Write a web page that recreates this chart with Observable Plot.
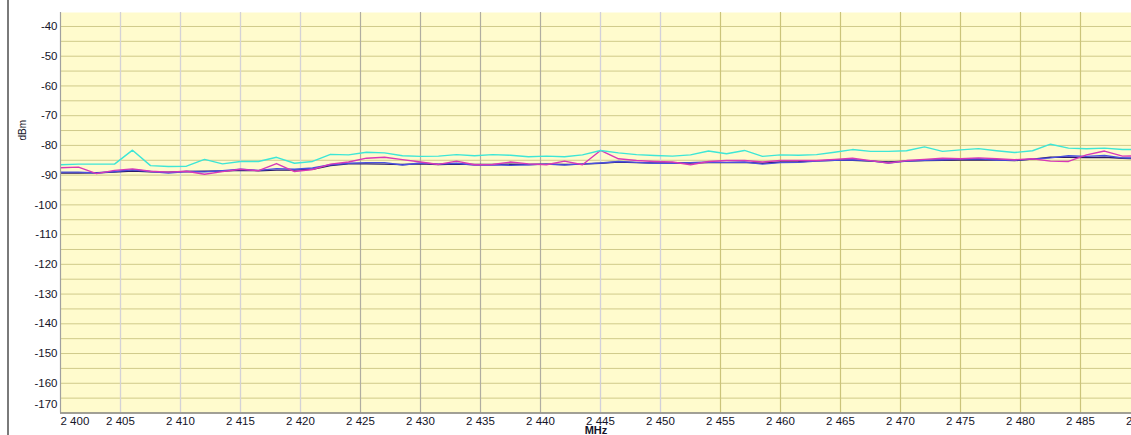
<!DOCTYPE html>
<html><head><meta charset="utf-8">
<script src="https://cdn.jsdelivr.net/npm/d3@7"></script>
<script src="https://cdn.jsdelivr.net/npm/@observablehq/plot@0.6"></script>
<style>body{margin:0;background:#fff;overflow:hidden}</style>
</head><body><div id="chart"></div>
<script>
const freqs = [2400,2401.5,2403,2404.5,2406,2407.5,2409,2410.5,2412,2413.5,2415,2416.5,2418,2419.5,2421,2422.5,
  2424,2425.5,2427,2428.5,2430,2431.5,2433,2434.5,2436,2437.5,2439,2440.5,2442,2443.5,2445,2446.5,
  2448,2449.5,2451,2452.5,2454,2455.5,2457,2458.5,2460,2461.5,2463,2464.5,2466,2467.5,2469,2470.5,
  2472,2473.5,2475,2476.5,2478,2479.5,2481,2482.5,2484,2485.5,2487,2488.5,2490];
const cyanSeries = [-86.5,-86.3,-86.3,-86.3,-81.6,-86.8,-87.1,-87.0,-84.7,-86.2,-85.4,-85.4,-84.0,-86.0,-85.4,-83.0,
  -83.2,-82.3,-82.5,-83.5,-83.7,-83.6,-83.1,-83.5,-83.1,-83.3,-83.8,-83.6,-83.8,-83.2,-81.7,-82.5,
  -83.1,-83.4,-83.6,-83.2,-81.9,-82.8,-81.7,-83.7,-83.2,-83.3,-83.1,-82.3,-81.4,-82.0,-82.0,-81.8,
  -80.5,-82.0,-81.5,-81.1,-81.8,-82.4,-81.8,-79.6,-80.9,-81.1,-80.9,-81.4,-81.3];
const magentaSeries = [-87.5,-87.3,-89.5,-88.4,-87.9,-88.7,-89.0,-88.7,-89.7,-88.8,-88.0,-88.5,-86.1,-88.8,-88.1,-86.3,
  -85.6,-84.3,-84.0,-84.8,-85.6,-86.4,-85.3,-86.5,-86.4,-85.6,-86.2,-86.5,-85.3,-86.5,-81.7,-84.5,
  -85.1,-85.4,-85.6,-86.5,-85.4,-85.1,-85.1,-85.6,-85.1,-85.1,-85.1,-84.7,-84.3,-85.1,-85.9,-85.1,
  -84.7,-84.3,-84.5,-84.2,-84.5,-84.8,-84.5,-85.3,-85.4,-83.2,-81.9,-83.6,-83.5];
const blueSeries = [-89.0,-89.0,-89.3,-88.8,-88.2,-88.8,-89.3,-88.8,-88.9,-88.5,-88.0,-88.4,-87.8,-88.0,-87.6,-86.5,
  -86.0,-85.8,-85.8,-86.6,-85.9,-86.3,-86.0,-86.6,-86.5,-86.7,-86.5,-86.3,-86.6,-86.2,-85.9,-85.4,
  -85.7,-86.0,-86.0,-85.8,-85.6,-85.7,-85.6,-86.3,-85.8,-85.7,-85.3,-85.0,-84.8,-85.2,-85.9,-85.3,
  -85.0,-84.8,-84.6,-84.5,-84.9,-85.0,-84.6,-84.2,-83.5,-83.7,-83.4,-84.2,-84.3];
const navySeries = [-89.3,-89.3,-89.2,-89.0,-88.6,-88.9,-89.0,-88.8,-88.7,-88.6,-88.4,-88.5,-88.3,-88.3,-88.0,-86.8,
  -86.2,-86.2,-86.3,-86.4,-86.2,-86.4,-86.3,-86.4,-86.4,-86.3,-86.4,-86.3,-86.4,-86.3,-86.0,-85.6,
  -85.8,-85.9,-85.9,-85.9,-85.8,-85.8,-85.7,-86.0,-85.6,-85.5,-85.2,-85.0,-85.0,-85.3,-85.6,-85.3,
  -85.1,-85.0,-84.9,-84.8,-84.9,-85.1,-84.6,-84.0,-84.0,-84.1,-84.0,-84.3,-84.5];
const seriesNames = ["Trace 4","Trace 3","Trace 2","Trace 1"];
const seriesValues = [navySeries, blueSeries, magentaSeries, cyanSeries];
const seriesColors = ["#2a1a6a","#4a50e0","#d838b8","#3ee6d6"];
const xTicks = [2400,2405,2410,2415,2420,2425,2430,2435,2440,2445,2450,2455,2460,2465,2470,2475,2480,2485,2490];
const yTicks = [-170,-160,-150,-140,-130,-120,-110,-100,-90,-80,-70,-60,-50,-40];
const yGrid = [-170,-165,-160,-155,-150,-145,-140,-135,-130,-125,-120,-115,-110,-105,-100,-95,-90,-85,-80,-75,-70,-65,-60,-55,-50,-45,-40];
const xLabel = "MHz";
const yLabel = "dBm";

const rows = [];
seriesNames.forEach((s, k) => freqs.forEach((f, i) => rows.push({s, f, v: seriesValues[k][i]})));

const fmt = d3.formatLocale({thousands: " ", grouping: [3], decimal: "."}).format(",");

const chart = Plot.plot({
  width: 1131, height: 435,
  marginLeft: 60, marginRight: 0, marginTop: 12, marginBottom: 22.5,
  style: {fontFamily: "'Liberation Sans', Arial, sans-serif", fontSize: "11.5px", color: "#141428", background: "#fff"},
  x: {domain: [2400, 2489.25], ticks: xTicks, tickFormat: fmt, tickSize: 0, tickPadding: 4, label: null},
  y: {domain: [-170, -35.3], ticks: yTicks, tickFormat: d => String(d), tickSize: 0, tickPadding: 3, label: null},
  color: {domain: seriesNames, range: seriesColors},
  marks: [
    Plot.frame({fill: "#fffbcd", stroke: null}),
    Plot.ruleY(yGrid, {stroke: "#d0ca8a", strokeWidth: 1}),
    Plot.ruleX(xTicks.filter(d => d > 2400 && d < 2425), {stroke: "#d4d2d6", strokeWidth: 1.3}),
    Plot.ruleX(xTicks.filter(d => d >= 2425 && d < 2445), {stroke: "#b0ada0", strokeWidth: 1.2}),
    Plot.ruleX(xTicks.filter(d => d >= 2445 && d < 2455), {stroke: "#d2d0da", strokeWidth: 1.3}),
    Plot.ruleX(xTicks.filter(d => d >= 2455 && d < 2489), {stroke: "#cbc47a", strokeWidth: 1.2}),
    Plot.lineY(rows, {x: "f", y: "v", z: "s", stroke: "s", strokeWidth: 1.4, clip: true}),
    Plot.ruleX([2400], {stroke: "#a0a0a0", strokeWidth: 1.2}),
    Plot.ruleY([-170], {stroke: "#8a8a8a", strokeWidth: 1.5}),
    Plot.text([yLabel], {text: d => d, frameAnchor: "top-left", dx: -42, dy: 128, rotate: -90, fontSize: 10, fill: "#141428"}),
    Plot.text([xLabel], {text: d => d, frameAnchor: "bottom", dy: 21, fontWeight: "bold", fontSize: 11, fill: "#141428"})
  ]
});

const svg = d3.select(chart);
// outer left border line of the window
svg.append("line").attr("x1", 8).attr("x2", 8).attr("y1", 0).attr("y2", 435)
  .attr("stroke", "#7a7a7a").attr("stroke-width", 2);
// first x label left-aligned, bottom y label nudged up
svg.selectAll("g[aria-label='x-axis tick label'] text").filter((d, i) => i === 0).attr("text-anchor", "start");
svg.selectAll("g[aria-label='y-axis tick label'] text").filter(function() { return this.textContent === "-170"; }).attr("y", -5);
document.getElementById("chart").appendChild(chart);
</script>
</body></html>
